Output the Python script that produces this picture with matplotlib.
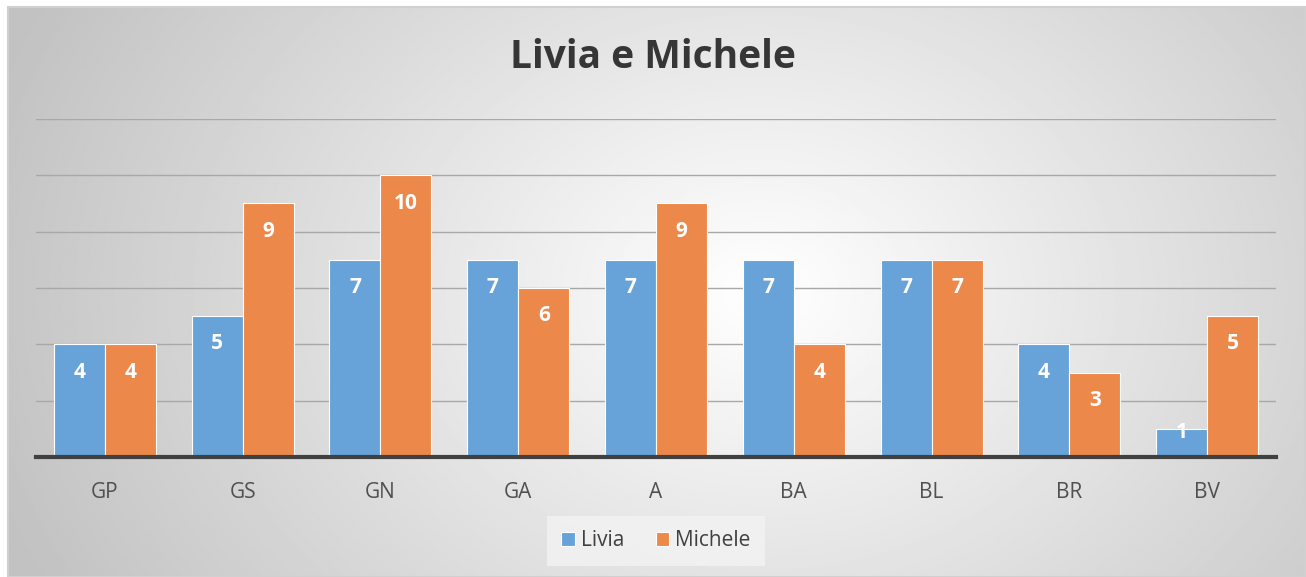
import matplotlib
matplotlib.use("Agg")
import matplotlib.pyplot as plt
import numpy as np
from matplotlib.patches import Rectangle

# data
categories = ["GP", "GS", "GN", "GA", "A", "BA", "BL", "BR", "BV"]
livia = [4, 5, 7, 7, 7, 7, 7, 4, 1]
michele = [4, 9, 10, 6, 9, 4, 7, 3, 5]

blue = "#67a3d9"
orange = "#ec894a"
font = ["Open Sans", "DejaVu Sans"]
plt.rcParams["font.family"] = font

W, H = 1306, 577
fig = plt.figure(figsize=(W / 100, H / 100), dpi=100)

# radial grey gradient behind the chart, like the Excel style
bg = fig.add_axes([8 / W, 0, 1297 / W, 570 / H], zorder=-10)
yy, xx = np.mgrid[0:1:300j, 0:1:600j]
r = np.sqrt(((xx - 0.58) * 1.6) ** 2 + ((yy - 0.5) * 0.9) ** 2)
img = 1.0 - 0.24 * np.clip(r, 0, 1.0)
bg.imshow(img, cmap="gray", vmin=0, vmax=1, aspect="auto",
          extent=[0, 1, 0, 1], interpolation="bilinear")
bg.set_xlim(0, 1)
bg.set_ylim(0, 1)
bg.axis("off")
fig.patches.append(Rectangle((8 / W, 0), 1297 / W, 570 / H,
                             transform=fig.transFigure, fill=False,
                             edgecolor="#d0d0d0", linewidth=1.5, zorder=-9))

ax = fig.add_axes([36 / W, 120 / H, 1240 / W, 338 / H])
ax.patch.set_alpha(0)

x = np.arange(len(categories))
w = 0.37
b1 = ax.bar(x - w / 2, livia, w, color=blue, edgecolor="white",
            linewidth=0.8, label="Livia", zorder=3)
b2 = ax.bar(x + w / 2, michele, w, color=orange, edgecolor="white",
            linewidth=0.8, label="Michele", zorder=3)

# labels at the inside end; short bars get the label pushed up to the top
for bars, vals in [(b1, livia), (b2, michele)]:
    for rect, v in zip(bars, vals):
        off = -20 if v >= 2 else -3
        ax.annotate(str(v), (rect.get_x() + rect.get_width() / 2, v),
                    xytext=(0, off), textcoords="offset points",
                    ha="center", va="center", color="white",
                    fontsize=15, fontweight="bold", zorder=4)

ax.set_xlim(-0.5, len(categories) - 0.5)
ax.set_ylim(0, 12)
ax.set_yticks(np.arange(0, 13, 2))
ax.yaxis.grid(True, color="#a8a8a8", linewidth=1.0, zorder=0)
ax.tick_params(axis="y", left=False, labelleft=False)
ax.tick_params(axis="x", length=0, pad=18, labelsize=15, labelcolor="#505050")
ax.set_xticks(x)
ax.set_xticklabels(categories)
for s in ["top", "right", "left"]:
    ax.spines[s].set_visible(False)
ax.spines["bottom"].set_color("#404040")
ax.spines["bottom"].set_linewidth(3)
ax.spines["bottom"].set_zorder(5)

fig.text(0.5, 1 - 58 / H, "Livia e Michele", ha="center", va="center",
         fontsize=28, fontweight="bold", color="#363636")

leg = fig.legend(loc="center", bbox_to_anchor=(656 / W, 1 - 541 / H),
                 ncol=2, frameon=True, fontsize=15, handlelength=0.65,
                 handleheight=0.65, handletextpad=0.3, columnspacing=1.5,
                 borderpad=0.7, fancybox=False)
leg.get_frame().set_facecolor("#f3f3f3")
leg.get_frame().set_edgecolor("none")
for t in leg.get_texts():
    t.set_color("#404040")

fig.savefig("out.png", dpi=100)
